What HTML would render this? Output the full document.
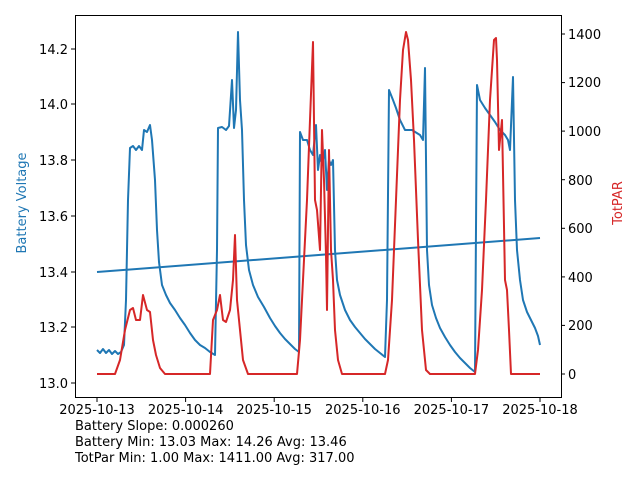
<!DOCTYPE html>
<html><head><style>body{margin:0;background:#fff}svg{display:block}text{font-family:"DejaVu Sans","Liberation Sans",sans-serif;font-size:13px;fill:#000}</style></head>
<body>
<svg width="640" height="480" viewBox="0 0 640 480">
<rect width="640" height="480" fill="#fff"/>
<polyline fill="none" stroke="#1f77b4" stroke-width="2" points="97,272 540,238"/>
<polyline fill="none" stroke="#1f77b4" stroke-width="2" stroke-linejoin="round" points="97,350 100,353 103,349 106,353 109,350 112,354 115,351 118,354 121,352 124,345 126,300 128,200 130,148 133,146 136,150 139,146 142,150 144,130 147,132 150,125 152,140 155,180 157,230 159,262 162,285 166,295 170,303 175,310 180,318 185,325 190,333 195,340 200,345 205,348 210,352 215,355 217,250 218,128 222,127 226,130 229,126 232,80 234,128 236,110 238,32 240,100 242,130 244,200 246,245 249,270 253,285 258,297 264,307 270,318 275,326 280,333 285,339 290,344 295,349 299,352 300,132 303,140 307,140 310,150 313,155 316,125 318,170 320,155 322,165 325,150 327,190 329,160 331,165 333,160 335,250 337,280 340,295 345,310 350,320 355,327 360,333 365,339 370,344 375,349 380,353 385,357 387,300 389,90 393,100 396,108 400,120 405,130 412,130 420,135 423,140 425,68 427,250 429,285 432,305 436,318 440,328 445,337 450,345 455,352 460,358 465,363 470,368 475,372 477,85 480,100 485,108 490,115 495,122 500,130 505,135 508,140 510,150 513,77 515,200 517,250 520,280 523,300 527,312 531,320 535,328 538,336 540,345"/>
<polyline fill="none" stroke="#d62728" stroke-width="2" stroke-linejoin="round" points="97,374 115,374 120,360 125,330 130,310 133,308 136,320 140,320 143,295 147,310 150,312 153,340 156,355 160,368 165,374 210,374 213,320 215,315 217,310 220,295 223,320 226,322 230,310 233,280 235,235 237,300 240,330 243,360 248,374 297,374 300,340 303,280 307,200 310,120 313,42 315,200 317,210 320,250 322,130 324,180 326,255 327,310 329,150 331,250 333,280 335,330 338,360 342,374 385,374 388,360 392,300 396,200 400,100 403,50 406,32 408,40 411,80 414,140 418,240 422,330 426,370 430,374 475,374 478,350 482,290 486,200 490,100 494,40 496,38 497,60 499,150 502,120 505,280 507,290 509,330 511,374 540,374"/>
<rect x="75.5" y="15.5" width="486" height="382" fill="none" stroke="#000" stroke-width="1"/>
<g stroke="#000">
<line x1="71" x2="75" y1="383" y2="383"/><line x1="71" x2="75" y1="327" y2="327"/><line x1="71" x2="75" y1="272" y2="272"/><line x1="71" x2="75" y1="216" y2="216"/><line x1="71" x2="75" y1="160" y2="160"/><line x1="71" x2="75" y1="104" y2="104"/><line x1="71" x2="75" y1="49" y2="49"/>
<line x1="561" x2="565" y1="374" y2="374"/><line x1="561" x2="565" y1="325.4" y2="325.4"/><line x1="561" x2="565" y1="276.9" y2="276.9"/><line x1="561" x2="565" y1="228.3" y2="228.3"/><line x1="561" x2="565" y1="179.7" y2="179.7"/><line x1="561" x2="565" y1="131.1" y2="131.1"/><line x1="561" x2="565" y1="82.6" y2="82.6"/><line x1="561" x2="565" y1="34" y2="34"/>
<line x1="97" x2="97" y1="398" y2="402"/><line x1="185.6" x2="185.6" y1="398" y2="402"/><line x1="274.2" x2="274.2" y1="398" y2="402"/><line x1="362.8" x2="362.8" y1="398" y2="402"/><line x1="451.4" x2="451.4" y1="398" y2="402"/><line x1="540" x2="540" y1="398" y2="402"/>
</g>
<g text-anchor="end">
<text x="68" y="388">13.0</text><text x="68" y="332">13.2</text><text x="68" y="277">13.4</text><text x="68" y="221">13.6</text><text x="68" y="165">13.8</text><text x="68" y="109">14.0</text><text x="68" y="54">14.2</text>
</g>
<g>
<text x="568" y="379">0</text><text x="568" y="330">200</text><text x="568" y="282">400</text><text x="568" y="233">600</text><text x="568" y="185">800</text><text x="568" y="136">1000</text><text x="568" y="87">1200</text><text x="568" y="39">1400</text>
</g>
<g text-anchor="middle">
<text x="97" y="414">2025-10-13</text><text x="185.6" y="414">2025-10-14</text><text x="274.2" y="414">2025-10-15</text><text x="362.8" y="414">2025-10-16</text><text x="451.4" y="414">2025-10-17</text><text x="540" y="414">2025-10-18</text>
</g>
<text transform="translate(26,203) rotate(-90)" text-anchor="middle" style="fill:#1f77b4">Battery Voltage</text>
<text transform="translate(622,203) rotate(-90)" text-anchor="middle" style="fill:#d62728">TotPAR</text>
<text x="75" y="430">Battery Slope: 0.000260</text>
<text x="75" y="446">Battery Min: 13.03 Max: 14.26 Avg: 13.46</text>
<text x="75" y="462">TotPar Min: 1.00 Max: 1411.00 Avg: 317.00</text>
</svg>
</body></html>
